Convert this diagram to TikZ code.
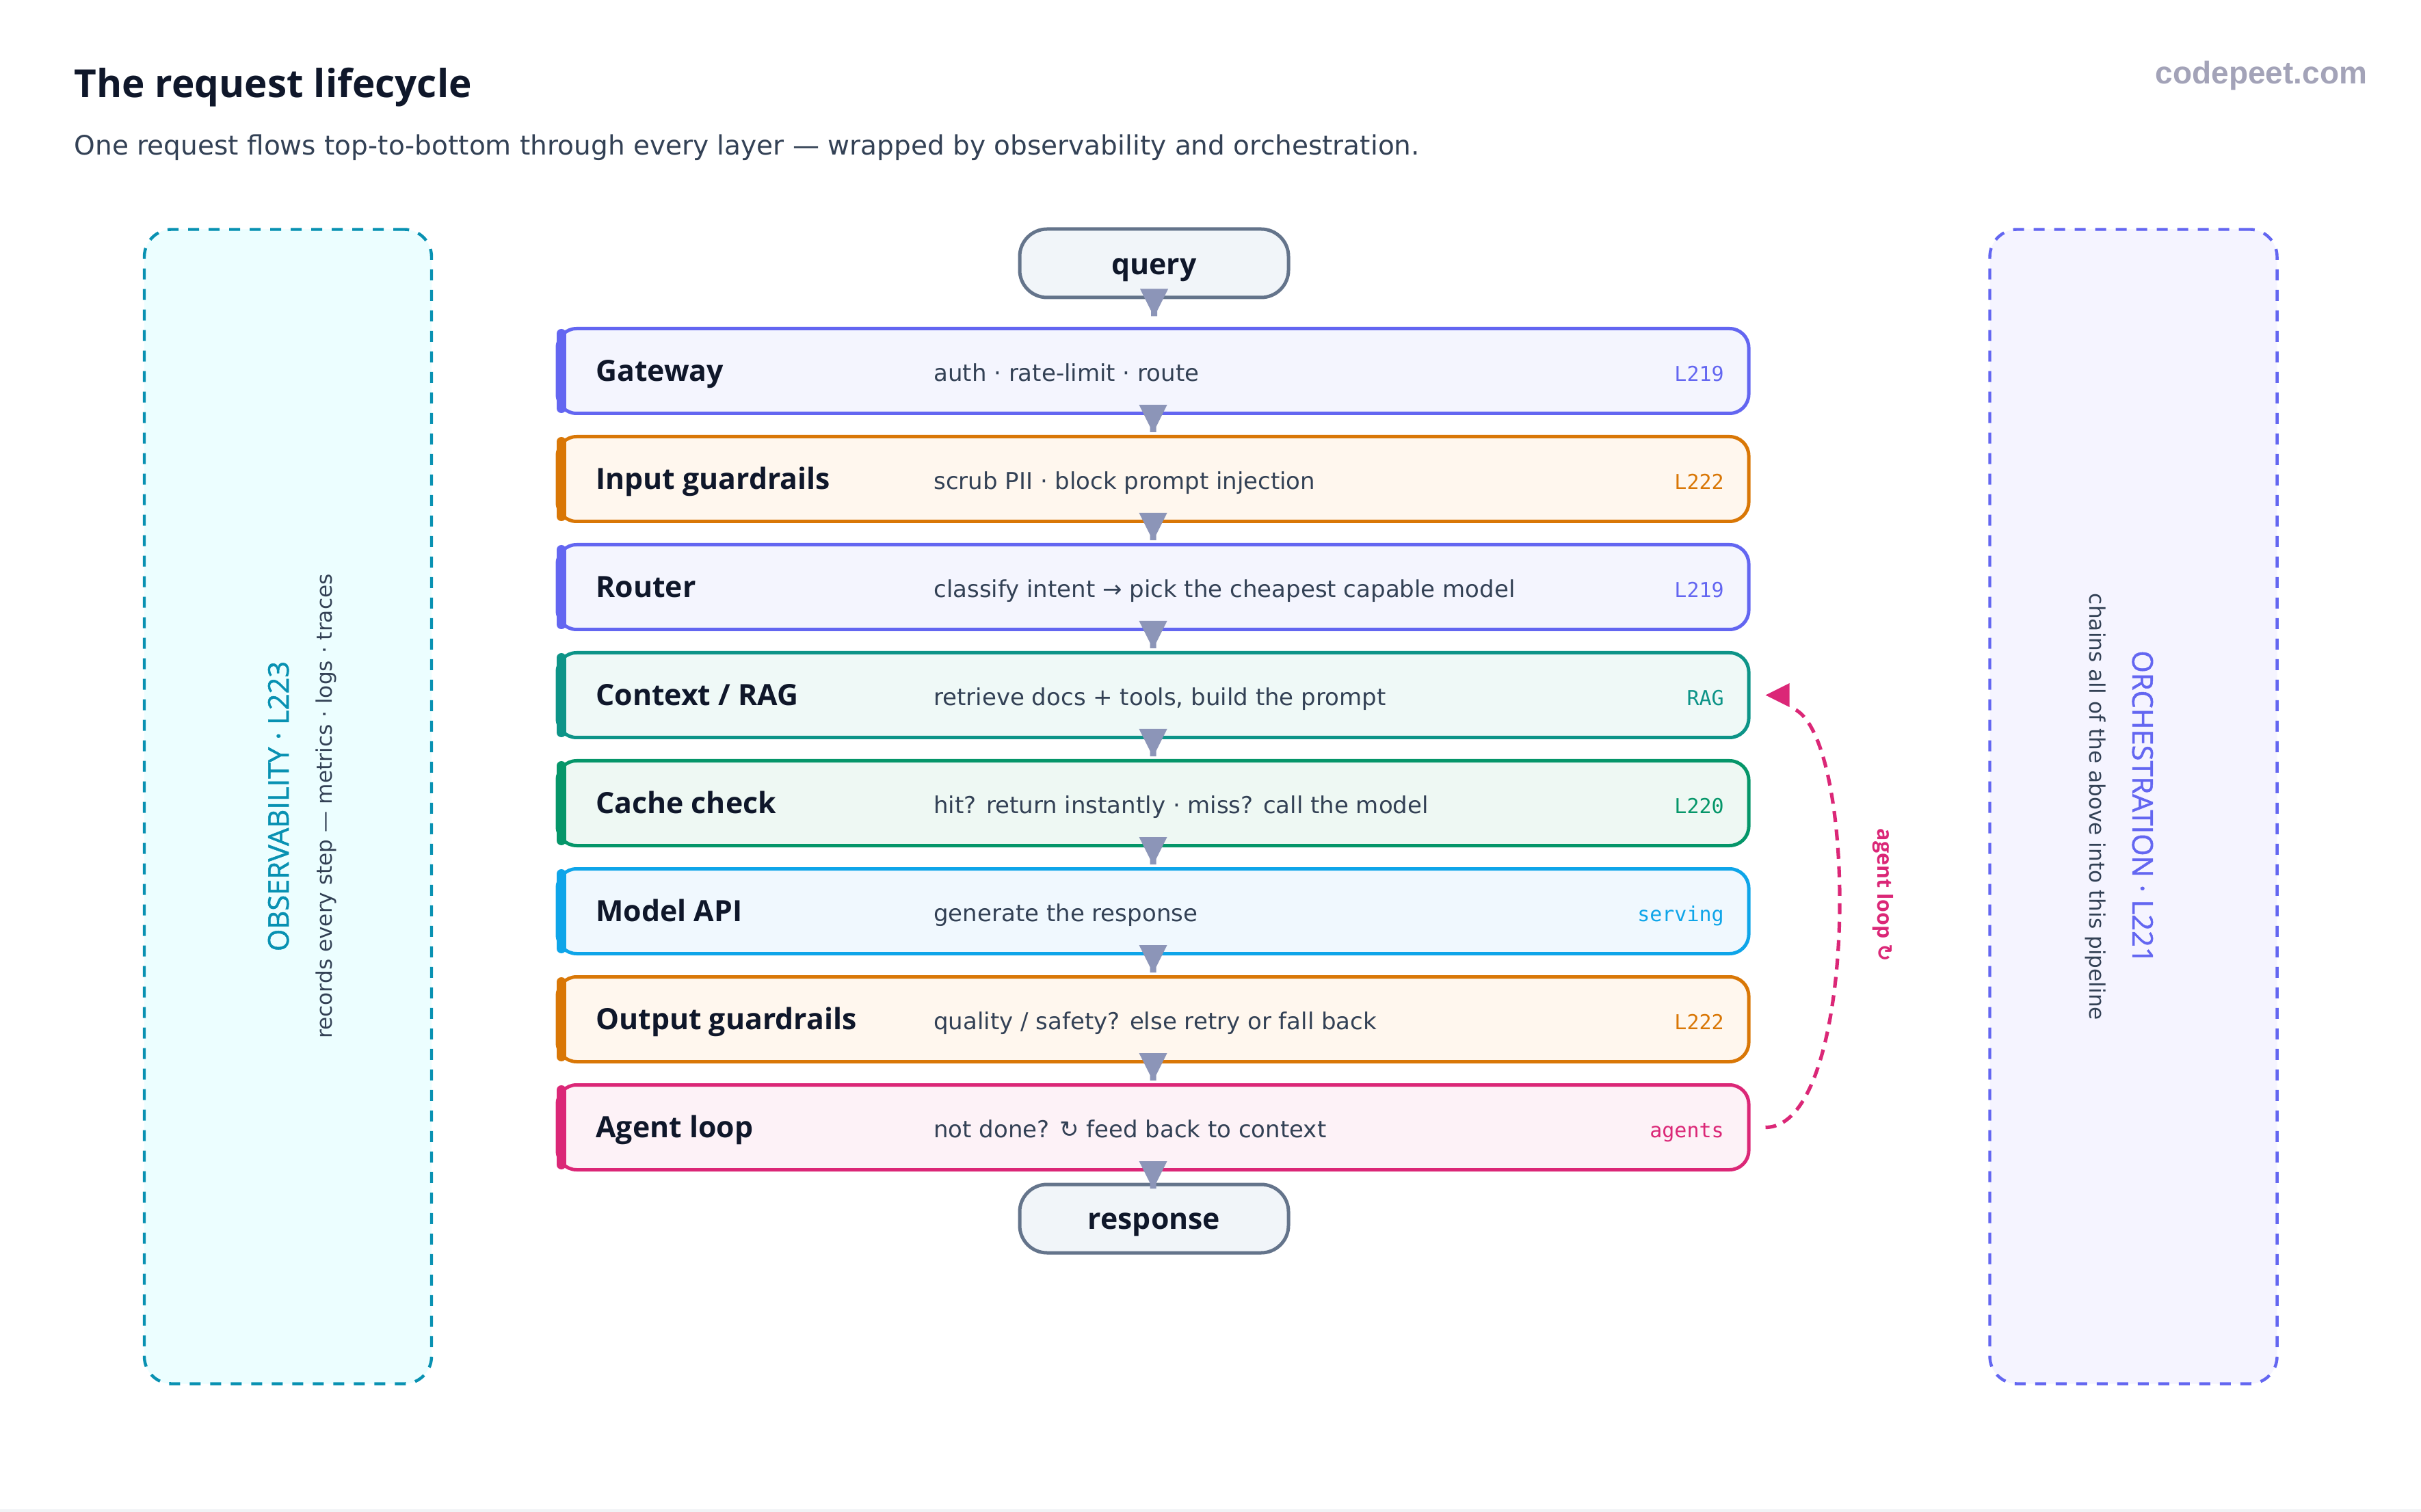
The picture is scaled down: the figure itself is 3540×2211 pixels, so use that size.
\documentclass[tikz,border=0pt]{standalone}
\usepackage{fontspec}
\setmainfont{Open Sans}
\newfontfamily\symf{DejaVu Sans}
\newfontfamily\bodyf{DejaVu Sans}
\newfontfamily\semif[FakeBold=1.2]{Open Sans}
\newfontfamily\monof{DejaVu Sans Mono}
\newfontfamily\logof{Liberation Sans}
\usetikzlibrary{calc}
\definecolor{ink}{HTML}{0F172A}
\definecolor{subink}{HTML}{334155}
\definecolor{logoc}{HTML}{A3A3B8}
\definecolor{slateb}{HTML}{64748B}
\definecolor{slatef}{HTML}{F1F5F9}
\definecolor{flowc}{HTML}{8C95B8}
\definecolor{cIndigo}{HTML}{6366F1}\definecolor{fIndigo}{HTML}{F4F5FE}
\definecolor{cAmber}{HTML}{D97706}\definecolor{fAmber}{HTML}{FFF7EE}
\definecolor{cTeal}{HTML}{0D9488}\definecolor{fTeal}{HTML}{EFF9F7}
\definecolor{cEmer}{HTML}{059669}\definecolor{fEmer}{HTML}{EEF8F3}
\definecolor{cSky}{HTML}{0EA5E9}\definecolor{fSky}{HTML}{F0F8FE}
\definecolor{cPink}{HTML}{DB2777}\definecolor{fPink}{HTML}{FDF2F7}
\definecolor{cCyan}{HTML}{0891B2}\definecolor{fCyan}{HTML}{ECFEFF}
\definecolor{fViolet}{HTML}{F5F4FF}
\definecolor{stripc}{HTML}{F1F3F6}
\tikzset{
  stepbox/.style n args={2}{draw=#1, fill=#2, line width=1.25pt, rounded corners=7pt,
     minimum width=435.5pt, minimum height=31pt, inner sep=0pt},
  term/.style={draw=slateb, fill=slatef, line width=1.25pt, rounded corners=10pt,
     minimum width=98.25pt, minimum height=25pt, inner sep=0pt},
  panel/.style n args={2}{draw=#1, fill=#2, line width=1.1pt, rounded corners=10pt,
     dash pattern=on 4pt off 3.5pt, minimum width=105pt, minimum height=422pt, inner sep=0pt},
  lbl/.style={font=\fontsize{10.7}{13}\selectfont\bfseries, text=ink, inner sep=0pt},
  desc/.style={font=\fontsize{8.5}{10}\selectfont\bodyf, text=subink, inner sep=0pt},
  tag/.style={font=\fontsize{7.5}{9}\selectfont\monof, inner sep=0pt},
  accent/.style={draw=#1, line width=3.5pt, line cap=round},
}
\newcommand\flowarrow[2]{%
  \fill[flowc] ($(#1.south)+(-20.5,-15)$) -- ($(#1.south)+(20.5,-15)$) -- ($(#1.south)+(4.5,17)$)
    -- ($(#1.south)+(4.5,25)$) -- ($(#1.south)+(-4.5,25)$) -- ($(#1.south)+(-4.5,17)$) -- cycle;}
\newcommand\stepitem[7]{% name, y, border, fill, label, desc, tag
  \node[stepbox={#3}{#4}] (#1) at (1686,#2) {};
  \draw[accent=#3] ($(#1.north west)+(8,10)$) -- ($(#1.south west)+(8,-10)$);
  \node[lbl, anchor=base west] (#1L) at ($(#1.west)+(58,15)$) {#5};
  \node[desc, anchor=base west] (#1D) at ($(#1.west)+(552,15)$) {#6};
  \node[tag, text=#3, anchor=base east] (#1T) at ($(#1.east)+(-38,15)$) {#7};}
\begin{document}
\begin{tikzpicture}[x=0.25pt,y=-0.25pt]
\useasboundingbox (0,0) rectangle (3540,2211);
\fill[white] (0,0) rectangle (3540,2211);
\fill[stripc] (0,2207) rectangle (3540,2211);
% header
\node[anchor=base west, inner sep=0pt, text=ink, font=\fontsize{14.15}{16}\selectfont\bfseries] (title) at (108,143) {The request lifecycle};
\node[anchor=base west, inner sep=0pt, text=subink, font=\fontsize{9.76}{12}\selectfont\bodyf] (subtitle) at (108,227) {One request flows top-to-bottom through every layer — wrapped by observability and orchestration.};
\node[anchor=base east, inner sep=0pt, text=logoc, font=\fontsize{11.5}{13}\selectfont\logof\bfseries] (logo) at (3462,123) {codepeet.com};
% side panels
\node[panel={cCyan}{fCyan}] (obs) at (421,1179.5) {};
\node[panel={cIndigo}{fViolet}] (orch) at (3119.5,1179.5) {};
\node[rotate=90, anchor=base, inner sep=0pt, text=cCyan, font=\fontsize{10.4}{12}\selectfont\semif] (obsT) at (422,1179) {OBSERVABILITY · L223};
\node[rotate=90, anchor=base, inner sep=0pt, text=subink, font=\fontsize{7.8}{9}\selectfont\bodyf] (obsS) at (485,1179) {records every step — metrics · logs · traces};
\node[rotate=-90, anchor=base, inner sep=0pt, text=cIndigo, font=\fontsize{10.4}{12}\selectfont\semif] (orchT) at (3118,1180) {ORCHESTRATION · L221};
\node[rotate=-90, anchor=base, inner sep=0pt, text=subink, font=\fontsize{7.8}{9}\selectfont\bodyf] (orchS) at (3055,1180) {chains all of the above into this pipeline};
% terminals
\node[term] (q) at (1687.5,385) {};
\node[lbl, anchor=base] (qL) at ($(q.center)+(0,17)$) {query};
% steps
\stepitem{gw}{542.5}{cIndigo}{fIndigo}{Gateway}{auth · rate-limit · route}{L219}
\stepitem{ig}{700.5}{cAmber}{fAmber}{Input guardrails}{scrub PII · block prompt injection}{L222}
\stepitem{rt}{858.5}{cIndigo}{fIndigo}{Router}{classify intent → pick the cheapest capable model}{L219}
\stepitem{ctx}{1016.5}{cTeal}{fTeal}{Context / RAG}{retrieve docs + tools, build the prompt}{RAG}
\stepitem{cc}{1174.5}{cEmer}{fEmer}{Cache check}{hit? return instantly · miss? call the model}{L220}
\stepitem{api}{1332.5}{cSky}{fSky}{Model API}{generate the response}{serving}
\stepitem{og}{1490.5}{cAmber}{fAmber}{Output guardrails}{quality / safety? else retry or fall back}{L222}
\stepitem{ag}{1648.5}{cPink}{fPink}{Agent loop}{not done? ↻ feed back to context}{agents}
\node[term] (r) at (1687.5,1782) {};
\node[lbl, anchor=base] (rL) at ($(r.center)+(0,15)$) {response};
% flow arrows
\flowarrow{q}{gw}\flowarrow{gw}{ig}\flowarrow{ig}{rt}\flowarrow{rt}{ctx}\flowarrow{ctx}{cc}
\flowarrow{cc}{api}\flowarrow{api}{og}\flowarrow{og}{ag}\flowarrow{ag}{r}
% agent loop
\draw[cPink, line width=1.3pt, dash pattern=on 4pt off 2.75pt]
  ($(ag.east)+(22,0)$) .. controls ($(ag.east)+(160,0)$) and ($(ctx.east)+(160,44)$) .. ($(ctx.east)+(58,18)$);
\fill[cPink] ($(ctx.east)+(22,0)$) -- ($(ctx.east)+(57,-17.5)$) -- ($(ctx.east)+(57,17.5)$) -- cycle;
\node[rotate=-90, anchor=base, inner sep=0pt, text=cPink, font=\fontsize{7.6}{9}\selectfont\bfseries] (loopL) at (2745,1309) {agent loop {\symf\bfseries ↻}};
\end{tikzpicture}
\end{document}
